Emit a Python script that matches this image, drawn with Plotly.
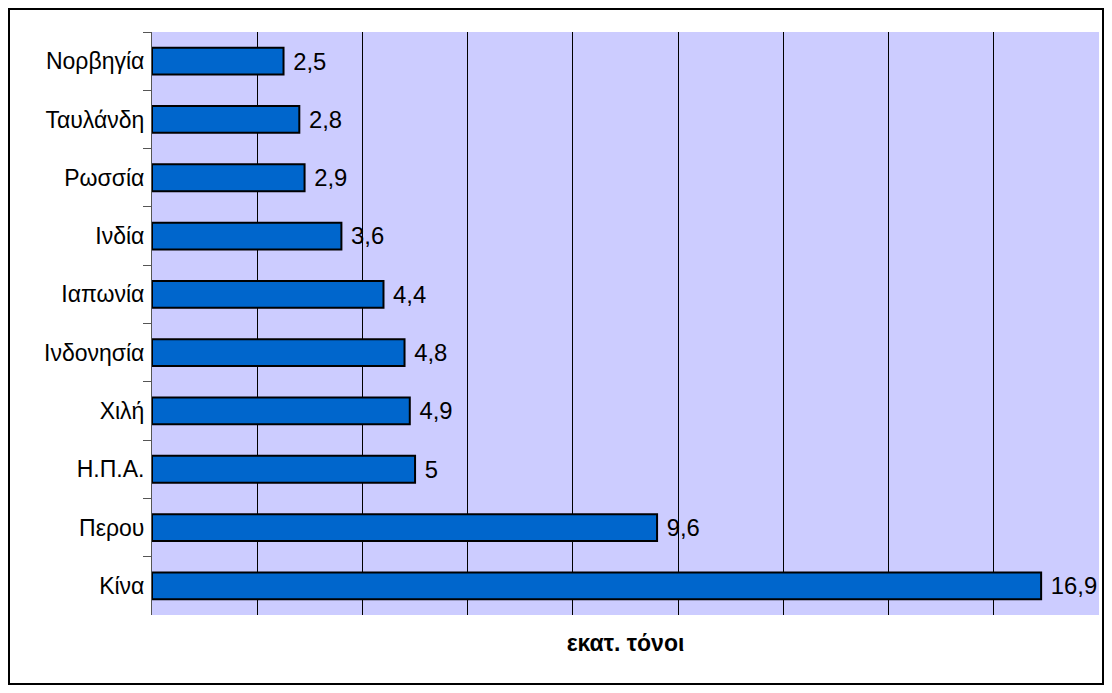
import plotly.graph_objects as go

countries = ["Νορβηγία", "Ταυλάνδη", "Ρωσσία", "Ινδία", "Ιαπωνία", "Ινδονησία", "Χιλή", "Η.Π.Α.", "Περου", "Κίνα"]
values = [2.5, 2.8, 2.9, 3.6, 4.4, 4.8, 4.9, 5, 9.6, 16.9]
value_labels = ["2,5", "2,8", "2,9", "3,6", "4,4", "4,8", "4,9", "5", "9,6", "16,9"]
x_title = "εκατ. τόνοι"

FONT = "Liberation Sans, Arial, sans-serif"

W, H = 1096, 677
ML, MR, MT, MB = 144, 5, 24, 70
PW, PH = W - ML - MR, H - MT - MB

fig = go.Figure(go.Bar(
    y=countries, x=values, orientation="h",
    text=[" " + t for t in value_labels], textposition="outside", cliponaxis=False,
    textfont=dict(family=FONT, size=24, color="black"),
    marker=dict(color="#0066CC", line=dict(color="black", width=2)),
))

fig.update_layout(
    width=W, height=H,
    margin=dict(l=ML, r=MR, t=MT, b=MB),
    paper_bgcolor="white", plot_bgcolor="#CCCCFF",
    bargap=0.54, showlegend=False,
    font=dict(family=FONT, color="black"),
    shapes=[dict(type="rect", xref="paper", yref="paper",
                 x0=-(ML - 1) / PW, x1=(PW + MR - 1) / PW,
                 y0=-(MB - 1) / PH, y1=(PH + MT - 1) / PH,
                 line=dict(color="black", width=2), fillcolor="rgba(0,0,0,0)", layer="below")],
)
fig.update_xaxes(range=[0, 18], dtick=2, showticklabels=False, showgrid=True,
                 gridcolor="black", gridwidth=1, zeroline=False, showline=False,
                 title=dict(text="<b>" + x_title + "</b>", font=dict(family=FONT, size=23), standoff=19))
fig.update_yaxes(autorange="reversed", categoryorder="array", categoryarray=countries,
                 showline=True, linecolor="#555555", linewidth=1, ticks="outside",
                 tickson="boundaries", ticklen=8, tickcolor="#555555",
                 tickfont=dict(family=FONT, size=23), showgrid=False, ticklabelstandoff=2)

fig.write_html("out.html")
